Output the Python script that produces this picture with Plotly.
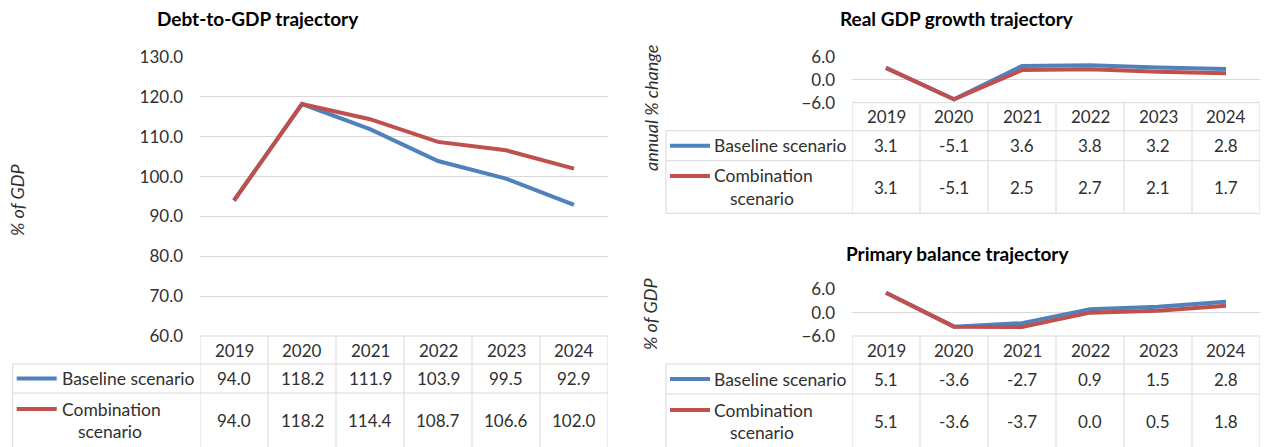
import plotly.graph_objects as go

# ---------------- data ----------------
years = ["2019", "2020", "2021", "2022", "2023", "2024"]
series_names = ["Baseline scenario", "Combination scenario"]

debt_baseline = [94.0, 118.2, 111.9, 103.9, 99.5, 92.9]
debt_combination = [94.0, 118.2, 114.4, 108.7, 106.6, 102.0]

gdp_baseline = [3.1, -5.1, 3.6, 3.8, 3.2, 2.8]
gdp_combination = [3.1, -5.1, 2.5, 2.7, 2.1, 1.7]

pb_baseline = [5.1, -3.6, -2.7, 0.9, 1.5, 2.8]
pb_combination = [5.1, -3.6, -3.7, 0.0, 0.5, 1.8]

# ---------------- style ----------------
W, H = 1264, 447
FONT = "Lato"
BLUE = "#4F81BD"
RED = "#C0504D"
GRID = "#D9D9D9"
TXT = "#303030"
NUM_SIZE = 17
LAB_SIZE = 17.5
TITLE_SIZE = 19
YTITLE_SIZE = 18


def px(x):
    return x / W


def py(y):
    return 1 - y / H


panels = [
    dict(ax="", title="Debt-to-GDP trajectory", tx=258, ty=19,
         ytitle="% of GDP", ytx=17, yty=200,
         x0=200, x1=608, top=57, hdr=336, r1=364, r2=393, bot=470,
         lab_left=12.7, key_x0=16.7, key_x1=56.7, lab_x=60,
         yrange=[60, 130], dtick=10,
         base=debt_baseline, comb=debt_combination),
    dict(ax="2", title="Real GDP growth trajectory", tx=957, ty=19,
         ytitle="annual % change", ytx=651, yty=108,
         x0=852, x1=1260, top=56.7, hdr=102.7, r1=130.7, r2=160.7, bot=213.3,
         lab_left=666, key_x0=670, key_x1=710, lab_x=712,
         yrange=[-6, 6], dtick=6,
         base=gdp_baseline, comb=gdp_combination),
    dict(ax="3", title="Primary balance trajectory", tx=957, ty=253,
         ytitle="% of GDP", ytx=650, yty=314,
         x0=852, x1=1260, top=289.3, hdr=336, r1=364, r2=394, bot=470,
         lab_left=666, key_x0=670, key_x1=710, lab_x=712,
         yrange=[-6, 6], dtick=6,
         base=pb_baseline, comb=pb_combination),
]

fig = go.Figure()
shapes = []
annotations = []

for p in panels:
    a = p["ax"]
    xref = "x" + a
    yref = "y" + a
    fig.add_trace(go.Scatter(x=years, y=p["base"], mode="lines", name=series_names[0],
                             line=dict(color=BLUE, width=4), xaxis=xref, yaxis=yref,
                             showlegend=False))
    fig.add_trace(go.Scatter(x=years, y=p["comb"], mode="lines", name=series_names[1],
                             line=dict(color=RED, width=4), xaxis=xref, yaxis=yref,
                             showlegend=False))

    xkey = "xaxis" + a
    ykey = "yaxis" + a
    fig.update_layout({
        xkey: dict(domain=[px(p["x0"]), px(p["x1"])], type="category",
                   categoryorder="array", categoryarray=years,
                   range=[-0.5, len(years) - 0.5], showgrid=False,
                   showticklabels=False, zeroline=False, showline=False,
                   anchor="y" + a, fixedrange=True),
        ykey: dict(domain=[py(p["hdr"]), py(p["top"])], range=p["yrange"],
                   dtick=p["dtick"], tick0=p["yrange"][0], tickformat=".1f",
                   showgrid=True, gridcolor=GRID, gridwidth=1, zeroline=False,
                   showline=False, ticks="", ticklabelstandoff=16,
                   tickfont=dict(family=FONT, size=NUM_SIZE, color=TXT),
                   anchor="x" + a, fixedrange=True),
    })

    # title
    annotations.append(dict(text="<b>" + p["title"] + "</b>", x=px(p["tx"]), y=py(p["ty"]),
                            xref="paper", yref="paper", showarrow=False,
                            xanchor="center", yanchor="middle",
                            font=dict(family=FONT, size=TITLE_SIZE, color="#000000")))
    # y-axis title
    annotations.append(dict(text="<i>" + p["ytitle"] + "</i>", x=px(p["ytx"]), y=py(p["yty"]),
                            xref="paper", yref="paper", showarrow=False, textangle=-90,
                            xanchor="center", yanchor="middle",
                            font=dict(family=FONT, size=YTITLE_SIZE, color=TXT)))

    # table borders
    line = dict(color=GRID, width=1)
    shapes.append(dict(type="line", xref="paper", yref="paper",
                       x0=px(p["x0"]), x1=px(p["x1"]), y0=py(p["hdr"]), y1=py(p["hdr"]), line=line))
    for yy in (p["r1"], p["r2"], p["bot"]):
        shapes.append(dict(type="line", xref="paper", yref="paper",
                           x0=px(p["lab_left"]), x1=px(p["x1"]), y0=py(yy), y1=py(yy), line=line))
    shapes.append(dict(type="line", xref="paper", yref="paper",
                       x0=px(p["lab_left"]), x1=px(p["lab_left"]),
                       y0=py(p["r1"]), y1=py(p["bot"]), line=line))
    for i in range(len(years) + 1):
        shapes.append(dict(type="line", xref=xref, yref="paper",
                           x0=i - 0.5, x1=i - 0.5, y0=py(p["hdr"]), y1=py(p["bot"]), line=line))

    # header years and values (x positioned by category index on the axis)
    mid_hdr = (p["hdr"] + p["r1"]) / 2
    mid_r1 = (p["r1"] + p["r2"]) / 2
    mid_r2 = p["r2"] + 27 if p["bot"] > 447 else (p["r2"] + p["bot"]) / 2
    for i, (yr, vb, vc) in enumerate(zip(years, p["base"], p["comb"])):
        annotations.append(dict(text=yr, x=i, y=py(mid_hdr), xref=xref, yref="paper",
                                showarrow=False, xanchor="center", yanchor="middle",
                                font=dict(family=FONT, size=NUM_SIZE, color=TXT)))
        annotations.append(dict(text=f"{vb:.1f}", x=i, y=py(mid_r1), xref=xref, yref="paper",
                                showarrow=False, xanchor="center", yanchor="middle",
                                font=dict(family=FONT, size=NUM_SIZE, color=TXT)))
        annotations.append(dict(text=f"{vc:.1f}", x=i, y=py(mid_r2), xref=xref, yref="paper",
                                showarrow=False, xanchor="center", yanchor="middle",
                                font=dict(family=FONT, size=NUM_SIZE, color=TXT)))

    # legend keys + row labels
    shapes.append(dict(type="line", xref="paper", yref="paper",
                       x0=px(p["key_x0"]), x1=px(p["key_x1"]), y0=py(mid_r1), y1=py(mid_r1),
                       line=dict(color=BLUE, width=4)))
    annotations.append(dict(text=series_names[0], x=px(p["lab_x"]), y=py(mid_r1),
                            xref="paper", yref="paper", showarrow=False,
                            xanchor="left", yanchor="middle",
                            font=dict(family=FONT, size=LAB_SIZE, color=TXT)))
    l1 = mid_r2 - 11
    l2 = mid_r2 + 11
    shapes.append(dict(type="line", xref="paper", yref="paper",
                       x0=px(p["key_x0"]), x1=px(p["key_x1"]), y0=py(l1), y1=py(l1),
                       line=dict(color=RED, width=4)))
    annotations.append(dict(text="Combination", x=px(p["lab_x"]), y=py(l1),
                            xref="paper", yref="paper", showarrow=False,
                            xanchor="left", yanchor="middle",
                            font=dict(family=FONT, size=LAB_SIZE, color=TXT)))
    annotations.append(dict(text="scenario", x=px(p["lab_x"] + 50), y=py(l2),
                            xref="paper", yref="paper", showarrow=False,
                            xanchor="center", yanchor="middle",
                            font=dict(family=FONT, size=LAB_SIZE, color=TXT)))

fig.update_layout(
    width=W, height=H,
    margin=dict(l=0, r=0, t=0, b=0, pad=0, autoexpand=False),
    paper_bgcolor="white", plot_bgcolor="white",
    showlegend=False,
    shapes=shapes, annotations=annotations,
    font=dict(family=FONT, color=TXT),
)

fig.write_html("out.html",
               config={"displayModeBar": False, "staticPlot": True},
               post_script="document.body.style.margin='0';document.body.style.overflow='hidden';")
